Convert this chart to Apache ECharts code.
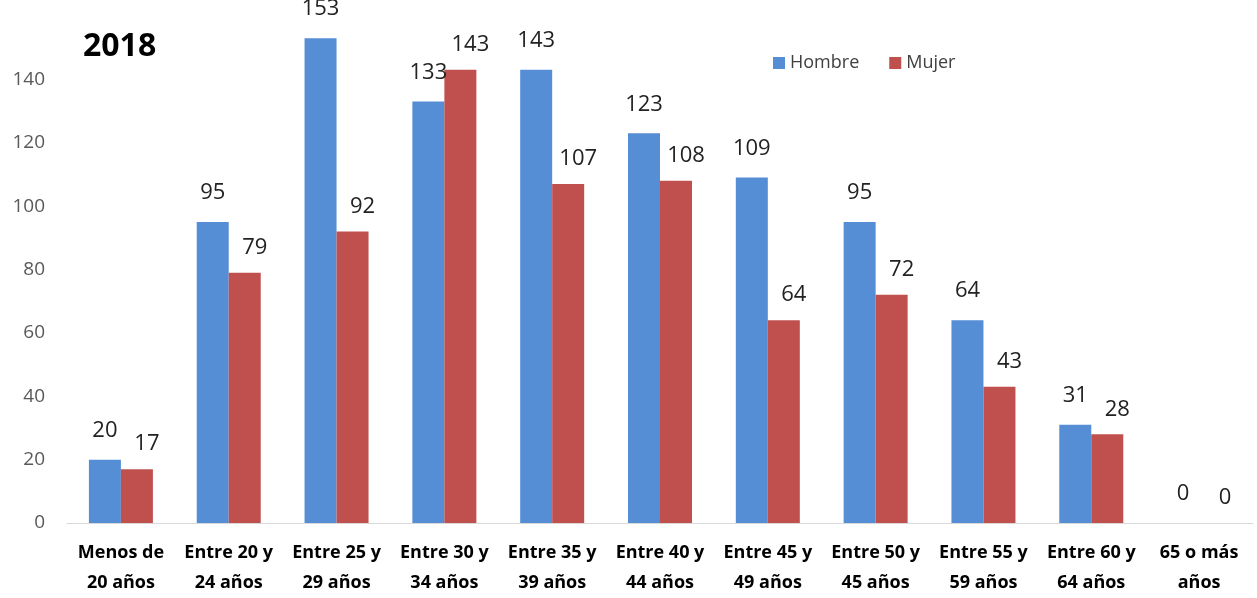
<!DOCTYPE html>
<html>
<head>
<meta charset="utf-8">
<script src="https://cdn.jsdelivr.net/npm/echarts@6/dist/echarts.min.js"></script>
<style>
  html, body { margin: 0; padding: 0; background: #fff; }
  #chart { width: 1257px; height: 598px; }
</style>
</head>
<body>
<div id="chart"></div>
<script>
// categorias de edad
var categorias = ['Menos de\n20 años', 'Entre 20 y\n24 años', 'Entre 25 y\n29 años', 'Entre 30 y\n34 años',
  'Entre 35 y\n39 años', 'Entre 40 y\n44 años', 'Entre 45 y\n49 años', 'Entre 50 y\n45 años',
  'Entre 55 y\n59 años', 'Entre 60 y\n64 años', '65 o más\naños'];
var hombre = [20, 95, 153, 133, 143, 123, 109, 95, 64, 31, 0];
var mujer = [17, 79, 92, 143, 107, 108, 64, 72, 43, 28, 0];
var yTicks = [0, 20, 40, 60, 80, 100, 120, 140];

var chart = echarts.init(document.getElementById('chart'));
var fuente = '"Open Sans", "Noto Sans", sans-serif';

chart.setOption({
  animation: false,
  title: {
    text: '2018',
    left: 78,
    top: 26,
    textStyle: { fontSize: 32, fontWeight: 'bold', color: '#000', fontFamily: fuente }
  },
  legend: {
    data: ['Hombre', 'Mujer'],
    left: 768,
    top: 49,
    itemWidth: 12,
    itemHeight: 12,
    itemGap: 30,
    icon: 'rect',
    textStyle: { fontSize: 18, color: '#404040', fontFamily: fuente }
  },
  grid: { left: 67, right: 4, top: 16, bottom: 73 },
  xAxis: {
    type: 'category',
    data: categorias,
    axisTick: { show: false },
    axisLine: { lineStyle: { color: '#d9d9d9', width: 1 } },
    axisLabel: {
      interval: 0,
      margin: 15,
      fontSize: 18,
      fontWeight: 'bold',
      color: '#000',
      lineHeight: 30,
      fontFamily: fuente
    }
  },
  yAxis: {
    type: 'value',
    min: 0,
    max: 160,
    interval: 20,
    splitLine: { show: false },
    axisLine: { show: false },
    axisTick: { show: false },
    axisLabel: {
      margin: 22,
      fontSize: 19,
      color: '#595959',
      fontFamily: fuente,
      formatter: function (v) { return yTicks.indexOf(v) >= 0 ? v : ''; }
    }
  },
  series: [
    {
      name: 'Hombre',
      type: 'bar',
      data: hombre,
      barWidth: 32,
      barGap: '0%',
      itemStyle: { color: '#558ed5' },
      label: { show: true, position: 'top', distance: 18, fontSize: 22, color: '#222', fontFamily: fuente }
    },
    {
      name: 'Mujer',
      type: 'bar',
      data: mujer,
      barWidth: 32,
      itemStyle: { color: '#c0504d' },
      label: { show: true, position: 'top', distance: 14, offset: [10, 0], fontSize: 22, color: '#222', fontFamily: fuente }
    }
  ]
});
</script>
</body>
</html>
